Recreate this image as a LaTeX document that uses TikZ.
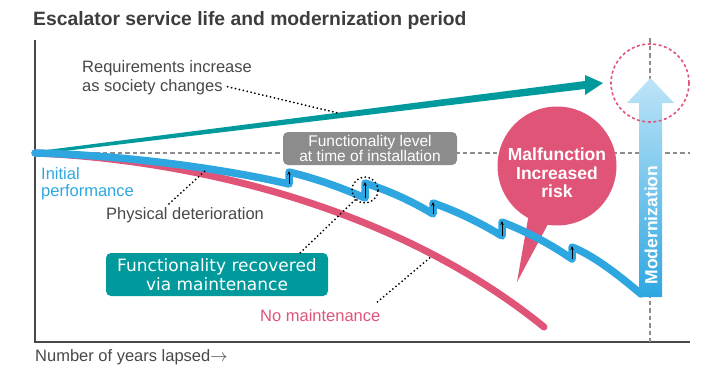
\documentclass[tikz,border=0pt]{standalone}
\usepackage{fontspec}
\setmainfont{Liberation Sans}
\newfontfamily\roundsans{DejaVu Sans}
\usetikzlibrary{arrows.meta, positioning, calc, shapes.callouts}
\definecolor{life-teal}{RGB}{0,153,156}
\definecolor{life-blue}{RGB}{46,167,224}
\definecolor{life-sky}{RGB}{190,228,248}
\definecolor{life-pink}{RGB}{224,84,120}
\definecolor{life-gray}{RGB}{140,140,140}
\definecolor{life-text}{RGB}{72,72,72}

\begin{document}
\begin{tikzpicture}[x=1pt, y=-1pt,
  note/.style={font=\fontsize{16.5}{19}\selectfont, text=life-text, inner sep=0pt},
  leader/.style={line width=2pt, line cap=round, dash pattern=on 0pt off 4pt},
  guide/.style={life-gray, line width=2pt, dash pattern=on 4.5pt off 3pt},
  tagbox/.style={rounded corners=5pt, align=center, text=white, inner sep=0pt},
  jump/.style={-{Stealth[length=4pt,width=3.5pt]}, line width=0.9pt},
]
  \useasboundingbox (0,0) rectangle (706,367);

  % title and axes
  \node[anchor=base west, inner sep=0pt, font=\fontsize{19.3}{22}\selectfont\bfseries, text=life-text!85!black] (title) at (33,25) {Escalator service life and modernization period};
  \coordinate (origin) at (35,153);
  \coordinate (top) at (35,40);
  \coordinate (corner) at (35,342);
  \coordinate (right) at (690,342);
  \draw[life-text, line width=1.2pt] (top) -- (corner) -- (right);
  \node[note, anchor=base west] (years) at (35,361) {Number of years lapsed$\rightarrow$};

  % reference levels
  \coordinate (levelEnd) at (690,153);
  \coordinate (renewTop) at (650,38);
  \coordinate (renewBottom) at (650,342);
  \draw[guide] (origin) -- (levelEnd);
  \draw[guide] (renewTop) -- (renewBottom);
  \node[tagbox, fill=life-gray, minimum width=174pt, minimum height=33pt, font=\fontsize{15.5}{13}\selectfont] (install) at (370,148.5) {Functionality level\\at time of installation};

  % rising requirements
  \fill[life-teal] (35,151.5) -- (585,81) -- (585,75) -- (603,83) -- (585,95) -- (585,89) -- (35,154.5) -- cycle;

  % risk bubble
  \coordinate (riskTip) at (517,282);
  \node[ellipse callout, fill=life-pink, minimum width=119pt, minimum height=119pt, inner sep=0pt, callout absolute pointer={(riskTip)}, callout pointer arc=20] (risk) at (557,166) {};
  \node[font=\fontsize{17.5}{18.5}\selectfont\bfseries, text=white, align=center, inner sep=0pt] (riskText) at (557,173) {Malfunction\\Increased\\risk};

  % no maintenance
  \draw[life-pink, line width=7pt, line cap=round] (origin) .. controls (200,160) and (400,210) .. (544,327);

  % with maintenance
  \draw[life-blue, line width=7.5pt, line cap=round, line join=round] (origin)
    .. controls (120,155) and (220,168) .. (289,184) -- (289,172)
    .. controls (314,178) and (340,187) .. (365,198) -- (365,183)
    .. controls (388,190.6) and (410,200) .. (433,214) -- (433,203)
    .. controls (456,211) and (479,222) .. (502,236) -- (502,222)
    .. controls (525,231) and (549,243) .. (572,259) -- (572,247)
    .. controls (595,256) and (622,278) .. (641,294);
  \foreach \x/\lo/\hi in {289/184/172, 365/198/183, 433/214/203, 502/236/222, 572/259/247}
    \draw[jump] (\x,\lo) -- (\x,\hi-1);

  % modernization
  \shade[top color=life-sky, bottom color=life-blue] (639,297) -- (639,103) -- (627,103) -- (650.5,78) -- (674,103) -- (662,103) -- (662,297) -- cycle;
  \node[rotate=90, font=\fontsize{17.5}{20}\selectfont\bfseries, text=white, inner sep=0pt] (modern) at (651,225) {Modernization};
  \node[circle, draw=life-pink, line width=1.6pt, dash pattern=on 3pt off 2.5pt, minimum size=78pt, inner sep=0pt] (target) at (650,83) {};

  % labels and leaders
  \node[note, anchor=base west] (req1) at (82,72) {Requirements increase};
  \node[note, anchor=base west] (req2) at (82,91) {as society changes};
  \coordinate (reqPt) at (338,113);
  \draw[leader] ([xshift=5pt]req2.east) -- (reqPt);

  \node[note, text=life-blue, anchor=north west, align=left, font=\fontsize{16.5}{17.5}\selectfont] (initial) at (41,167) {Initial\\performance};

  \node[note, anchor=base west] (wear) at (106,219) {Physical deterioration};
  \coordinate (wearPt) at (205,171);
  \draw[leader] ([xshift=-16pt,yshift=3pt]wear.north) -- (wearPt);

  \node[note, text=life-pink, anchor=base west] (nomaint) at (260,321) {No maintenance};
  \coordinate (pinkPt) at (432,256);
  \draw[leader] ([xshift=-3pt,yshift=7pt]nomaint.north east) -- (pinkPt);

  \node[circle, draw, leader, minimum size=26pt, inner sep=0pt] (recovery) at (365,190) {};
  \node[tagbox, fill=life-teal, minimum width=222pt, minimum height=43pt, font=\roundsans\fontsize{17}{19.5}\selectfont] (recovered) at (217,274.5) {Functionality recovered\\via maintenance};
  \draw[leader] (recovery.225) -- ([xshift=-28pt]recovered.north east);
\end{tikzpicture}
\end{document}
